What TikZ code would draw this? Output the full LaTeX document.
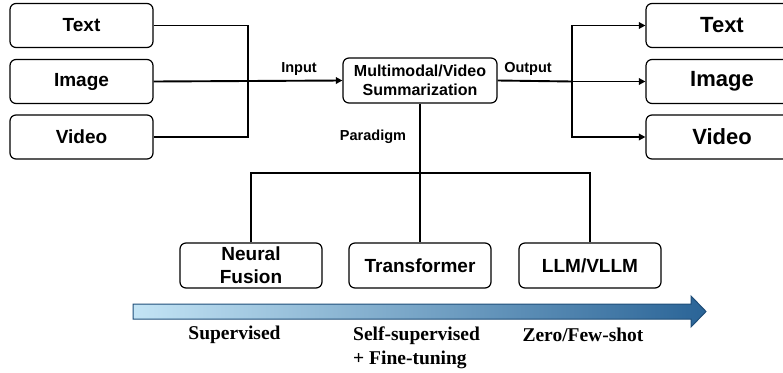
\documentclass[tikz,border=0pt]{standalone}
\usepackage{fontspec}
\setmainfont{Liberation Sans}
\newfontfamily\timesb{Liberation Serif}
\usetikzlibrary{arrows.meta}
\definecolor{barL}{HTML}{C3E4F5}
\definecolor{barM}{HTML}{A0C4E7}
\definecolor{barR}{HTML}{2A6497}
\definecolor{barEdge}{HTML}{1F4E79}
\tikzset{
  box/.style={draw=black, line width=1.2pt, rounded corners=6pt, inner sep=0pt,
    align=center, font=\bfseries},
  inbox/.style={box, minimum width=143pt, minimum height=44pt, font=\bfseries\fontsize{19}{22}\selectfont},
  outbox/.style={box, minimum width=152pt, minimum height=44pt, font=\bfseries\fontsize{22}{25}\selectfont},
  midbox/.style={box, minimum width=154pt, minimum height=45pt, font=\bfseries\fontsize{16}{18.5}\selectfont},
  pbox/.style={box, minimum width=142pt, minimum height=45pt, font=\bfseries\fontsize{19}{23}\selectfont},
  wire/.style={line width=1.9pt},
  feed/.style={wire, -{Triangle[length=6.5pt,width=6.5pt]}},
  tag/.style={font=\bfseries\fontsize{14.5}{17}\selectfont, inner sep=0pt},
  stage/.style={font=\timesb\bfseries\fontsize{19.5}{24}\selectfont, inner sep=0pt}
}
\begin{document}
\begin{tikzpicture}[x=1pt, y=-1pt]
\useasboundingbox (0,0) rectangle (783,372);
\clip (0,0) rectangle (783,372);

% inputs
\node[inbox] (lt) at (81.5,25.5) {Text};
\node[inbox] (li) at (81.5,81.5) {Image};
\node[inbox] (lv) at (81.5,137) {Video};

% central task
\node[midbox] (c) at (420,80.5) {Multimodal/Video\\Summarization};

% outputs
\node[outbox] (rt) at (722,25.5) {Text};
\node[outbox] (ri) at (722,81.5) {Image};
\node[outbox] (rv) at (722,137) {Video};

% paradigms
\node[pbox] (nf) at (251,265.5) {Neural\\Fusion};
\node[pbox] (tr) at (420,265.5) {Transformer};
\node[pbox] (ll) at (590,265.5) {LLM/VLLM};

% junction points
\coordinate (jl) at (248,81.5);
\coordinate (jr) at (572,81.5);
\coordinate (jb) at (420,173);

% input bracket
\draw[wire] (lt.east) -| (jl) |- (lv.east);
\draw[feed] (li.east) -- (c.west);
\node[tag] (inlab) at (299,69) {Input};

% output bracket
\draw[wire] (c.east) -- (jr);
\draw[feed] (jr) |- (rt.west);
\draw[feed] (jr) -- (ri.west);
\draw[feed] (jr) |- (rv.west);
\node[tag] (outlab) at (528,69) {Output};

% paradigm tree
\draw[wire] (c.south) -- (jb);
\draw[wire] (nf.north) |- (jb) -| (ll.north);
\draw[wire] (jb) -- (tr.north);
\node[tag] (plab) at (373,137) {Paradigm};

% learning-regime arrow
\draw[draw=barEdge, line width=1pt, left color=barL, middle color=barM, right color=barR]
  (133,304) -- (691,304) -- (691,296) -- (706,311.5) -- (691,327) -- (691,319) -- (133,319) -- cycle;
\node[stage] (s1) at (234.5,335) {Supervised};
\node[stage, align=left, anchor=north west] (s2) at (353,326.5) {Self-supervised\\+ Fine-tuning};
\node[stage] (s3) at (583,335) {Zero/Few-shot};
\end{tikzpicture}
\end{document}
